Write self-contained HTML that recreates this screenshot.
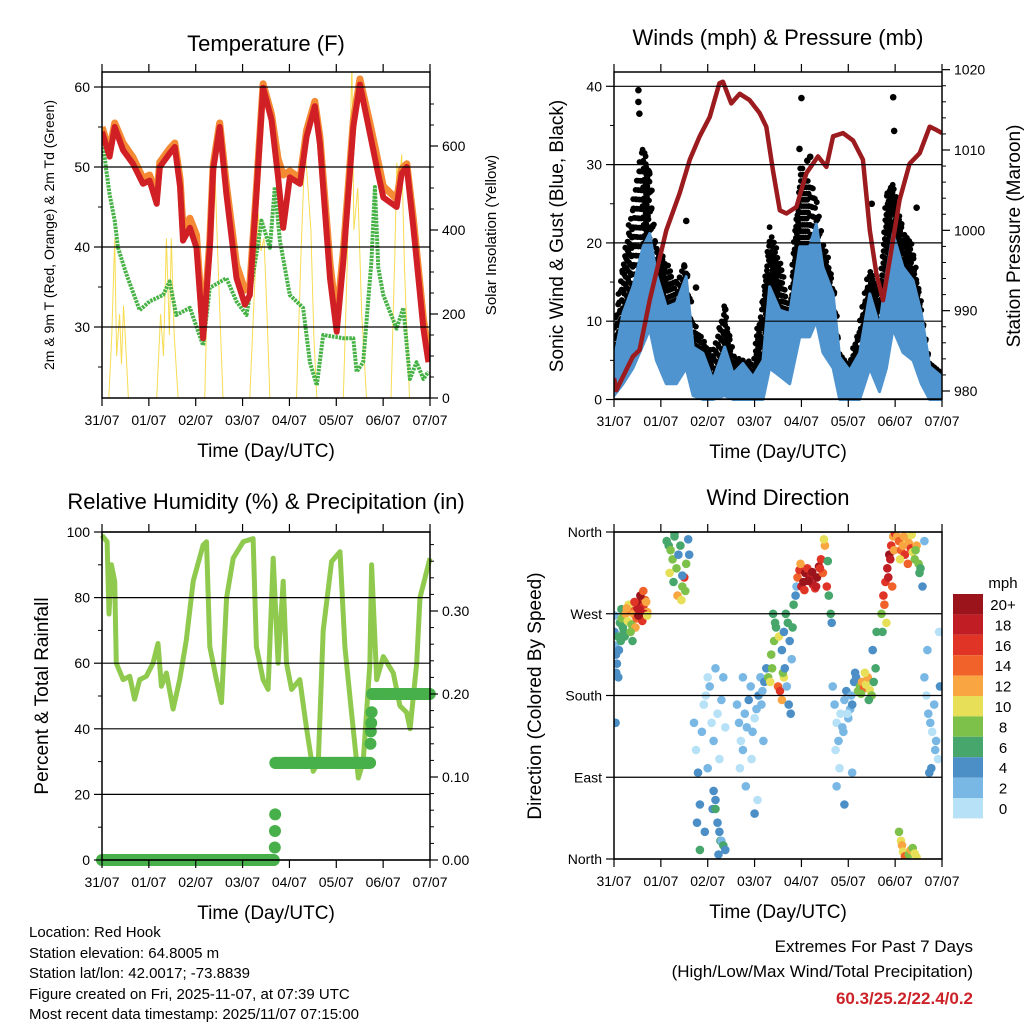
<!DOCTYPE html>
<html><head><meta charset="utf-8"><style>
body{margin:0;background:#fff;}
svg{display:block;font-family:"Liberation Sans",sans-serif;}
</style></head><body>
<svg id="chart" width="1024" height="1024" viewBox="0 0 1024 1024" xmlns="http://www.w3.org/2000/svg">
<rect width="1024" height="1024" fill="#fff"/>
<g id="p1"></g>
<g id="p2"></g>
<g id="p3"></g>
<g id="p4"></g>
<g id="txt" font-size="15" fill="#000">
<text x="29" y="937">Location: Red Hook</text>
<text x="29" y="958">Station elevation: 64.8005 m</text>
<text x="29" y="978">Station lat/lon: 42.0017; -73.8839</text>
<text x="29" y="999">Figure created on Fri, 2025-11-07, at 07:39 UTC</text>
<text x="29" y="1019">Most recent data timestamp: 2025/11/07 07:15:00</text>
<text x="973" y="952" text-anchor="end" font-size="17">Extremes For Past 7 Days</text>
<text x="973" y="977" text-anchor="end" font-size="17">(High/Low/Max Wind/Total Precipitation)</text>
<text x="973" y="1004" text-anchor="end" font-size="17" font-weight="bold" fill="#cc2229">60.3/25.2/22.4/0.2</text>
</g>
</svg>
<script>
// ---------- DATA ----------
const dayLabels = ["31/07","01/07","02/07","03/07","04/07","05/07","06/07","07/07"];
// Temperature
const tempHours = [0,3.9,6.5,10.8,15.9,21,24.4,28,29.6,34.7,37.3,40,41.5,45,48.4,51.8,55.2,56.9,60.3,63.7,68.9,73.2,75.7,79.1,82.5,86.8,90.2,92.8,96.2,101.4,104.8,109,111.6,116.8,120.2,123.6,128.7,132.1,137.2,140.7,144.1,150.9,153.5,156.1,159.5,164.6,167.2];
const tempRed = [54.4,51.3,55,52.1,50.4,47.9,48.3,45.4,50,51.7,52.5,47.5,40.8,42.4,39.9,28.6,39.9,49.6,55,46.6,36.1,32.8,34,46.6,59.9,55.9,48.7,42.4,48.7,47.9,53.8,57.6,52.9,36.1,29.4,38.2,55,60.3,54.2,50,46.2,45,49.2,50,42.4,29.8,25.6];
const tempOrange = [55,52,55.5,53,51.2,48.6,49,46.5,50.6,52.3,53,48.5,42.3,43.6,41.5,29.5,40.8,50.2,55.5,47.8,37.8,34.6,35.2,47.3,60.4,56.6,51,49,49.5,48.6,54.6,58.2,53.8,38,30.8,39.5,55.8,61,55.5,51.5,47.6,46,49.8,50.4,43.5,31,27];
const dewHours = [0,2.2,3.9,6.5,8.2,12.5,17.6,19.3,24.4,31.3,34.7,38,45,51.8,55.2,63.7,68.9,74,79.1,81.7,86,88.5,91.1,96.2,103,106.5,110,113.3,123.6,128.7,130.4,133.8,138,139.8,141.5,144.1,150.9,154.3,157.7,161.1,164.6,167.2];
const dewVals = [53.8,49.6,46.6,43.3,39.9,36.6,33.2,32.1,33.2,34,35.7,31.5,32.4,27.7,34.9,36.1,33.2,31.5,39.1,43.3,39.9,47.5,40.8,34,32.4,25.6,22.7,29,28.6,28.6,24.4,25.6,38.2,47.5,37.4,34,29.8,32.4,23.5,25.6,23.5,24.4];
const solarHours = [3.5,5,6.5,7.5,9,10,11,12,13.5, 28,30,31.5,33,34.5,35.5,37,39, 52.6,54.5,56.5,58,60,62, 75.7,78,80,81.5,83,84.5,86, 99.6,102,104,105.5,107,108.5,110, 123.6,125.5,127,128,129,131,133,135.5, 148,150,151,152,153.5,155,157.5];
const solarVals = [0,150,380,100,200,80,220,140,0, 0,200,100,380,150,380,150,0, 0,350,545,520,250,0, 0,250,440,350,380,200,0, 0,350,600,500,400,150,0, 0,300,600,800,400,500,200,0, 0,350,560,500,580,300,0];
// Winds
const windHours = [0,4.6,9.7,14.9,18.3,21.7,26.8,31.9,37,40.5,45.6,50.7,56.7,61,66,71.2,76.3,79.7,84.9,90,95.1,100.2,103.6,107,112.2,115.6,120.7,125.8,131,136,139.5,142.9,148,153.2,157.4,161.7,168];
const windTop = [5,11,14.4,19.5,21.2,16,11.8,12.3,15.7,6.7,5.9,2.5,6.7,3.3,4.6,2.9,5,14.4,11.4,11,19.5,19.5,22.4,16.9,13.5,5.4,3.7,5.9,13.5,9.3,16,21.2,16.9,15.2,11,4.2,2.9];
const windLow = [0.5,2,4,7,9,5,2,2,4,0.5,0,0,0.5,0,0,0,0,4,3,2,8,8,10,6,4,0,0,0,4,1,4,9,6,5,2,0,0];
const gustMax = [9,18,25,33,29,20,18,15,18,10,8,6,12,6,5,5,14,22,18,12,30,28,26,20,16,6,5,10,17,14,26,28,22,20,12,5,4];
const gustOutHours = [12.5,12.5,13,18,37,36,42,57,96,95,100.5,99,143,143.5,141,132,155];
const gustOutVals = [39.5,38,36.5,29,22.8,17,14.3,11.5,38.5,32,31,30.5,38.6,34.3,23,25,24.5];
const presHours = [0,1.2,9.7,13.1,18.3,26.8,33.6,38.8,43.9,49,54,55.8,60.1,64.4,69.5,74.6,78,81.4,84.9,88.3,93.4,98.5,104.5,108.8,112.2,117.3,122.4,127.5,131,134.4,137.8,141.2,146.3,151.4,156.6,161.7,165.1,168];
const presVals = [981.6,980.1,984.3,985.1,991.3,1000,1004.6,1008.8,1011.7,1014.1,1018.3,1018.5,1015.8,1017,1016.2,1014.6,1012.9,1007.5,1002.5,1002.1,1002.9,1007.1,1009.2,1007.9,1011.7,1012.1,1011.2,1008.8,1000,994.6,991.3,996.3,1003.8,1008.3,1009.6,1012.9,1012.5,1012.1];
// Humidity & precipitation
const rhHours = [0,2.6,3.6,4.8,6.5,7.3,10.8,14.2,16.7,19.3,22.7,26.1,28.7,30.4,33,36.4,39.8,43.2,46.7,51.8,53.5,55.2,58.6,61.2,63.8,67.2,72.3,77.4,79.1,82.5,85.1,87.7,90.2,92.8,94.5,97.1,101.3,104.8,108.2,110.8,113.3,117.6,121.9,124.4,127.8,131.3,133.8,137.2,138.1,140.7,144.1,149.2,152.6,156,157.8,161.2,162.9,168];
const rhVals = [99,97,75,90,85,60,55,56,49,55,56,60,66,53,57,46,55,67,85,96,97,65,55,48,80,92,97,98,65,55,52,92,60,85,60,52,55,40,27,30,70,91,94,65,45,25,30,60,90,55,62,57,47,45,40,60,80,92];
const precipHours = [0,88.4,88.5,88.6,88.7,88.8,137.3,137.5,137.7,137.9,138.1,138.4,168];
const precipVals = [0,0,0.015,0.035,0.055,0.117,0.117,0.14,0.155,0.165,0.178,0.2,0.2];
// Wind direction scatter
const dirHours = [0.2,0.5,1,1.5,2,2.5,3,3.5,0.3,1.2,2.2,3.8,4.5,0.8,
4,5,6,7,8,9,10,11,12,13,14,15,16,17,5.5,7.5,9.5,11.5,13.5,15.5,16.5,14.5,12.5,10.5,8.5,6.5,13,15,17,
27,28,29,30,31,32,33,34,35,36,37,38,28.5,30.5,32.5,34.5,36.5,38.5,31,35,
41,42,43,44,45,46,47,48,49,50,51,52,53,54,55,56,57,42.5,46.5,50.5,54.5,48,52,44,
51,52,53,54,55,56,57,53.5,
63,64,65,66,67,68,69,70,71,72,73,74,75,76,77,78,64.5,67.5,70.5,73.5,76.5,66,72,75.5,
79,80,81,82,83,84,85,86,87,80.5,82.5,84.5,86.5,81.5,
86,87,88,89,90,91,92,93,87.5,89.5,91.5,93.5,88.5,90.5,
94,95,96,97,98,99,100,101,102,103,104,105,106,107,108,109,110,111,95.5,97.5,99.5,101.5,103.5,105.5,107.5,109.5,111.5,
112,113,114,115,116,117,118,119,120,121,122,123,124,113.5,115.5,117.5,119.5,121.5,123.5,114,118,122,
125,126,127,128,129,130,131,132,133,134,126.5,128.5,130.5,132.5,134.5,
137,138,139,140,141,142,143,137.5,138.5,139.5,140.5,141.5,142.5,143.5,144,
145,146,147,148,149,150,151,152,153,154,155,156,157,158,159,146.5,148.5,150.5,152.5,154.5,156.5,
146,147,147.5,148,149,151,152,153,154,155,
159,160,161,162,163,164,165,166,167,160.5,162.5,164.5,166.5,161.5];
const dirVals = [250,235,225,215,245,230,260,240,268,205,200,275,255,150,
265,250,270,262,275,258,270,255,276,282,268,278,285,272,245,280,240,265,290,270,283,262,268,283,250,276,275,295,268,
350,345,340,330,355,320,335,345,300,310,325,352,315,305,290,285,295,335,358,312,
150,120,95,60,140,170,180,200,190,150,130,210,160,110,175,200,145,40,30,55,20,100,65,10,
75,55,40,30,20,15,10,5,
170,150,130,120,160,145,175,190,140,155,165,180,200,185,195,210,100,80,110,65,130,200,50,170,
200,195,210,240,255,190,185,175,200,225,260,245,205,270,
230,250,270,260,240,220,280,290,210,170,255,300,190,160,
310,318,300,305,315,320,308,312,302,298,310,322,330,315,345,300,290,270,325,296,306,316,300,320,352,328,260,
190,170,150,130,160,145,175,185,155,165,170,195,200,120,100,140,160,180,205,80,60,95,
185,190,195,188,192,200,186,180,195,210,182,205,175,230,250,
270,290,305,320,335,345,355,250,280,260,310,330,300,340,358,
355,350,340,345,335,352,348,342,338,330,345,325,320,300,350,330,355,325,357,340,315,
30,20,15,8,3,5,10,12,6,2,
200,180,160,150,140,170,130,110,190,230,100,120,250,95];
const dirSpeeds = [4,3,4,5,6,4,7,6,3,4,5,7,6,4,
8,7,12,10,14,9,13,12,18,20,16,17,14,12,7,11,6,15,20,19,13,17,22,16,9,12,18,15,11,
6,7,9,8,6,9,5,7,8,16,9,5,10,7,12,10,9,5,7,4,
2,1,4,5,2,1,0,1,3,1,2,2,1,0,3,2,1,4,5,4,6,2,5,6,
4,6,5,4,3,6,4,5,
2,3,1,2,3,2,4,3,2,1,3,4,3,2,5,4,1,2,0,1,3,3,4,2,
9,10,8,8,7,14,16,12,10,9,6,11,8,7,
5,4,7,6,4,3,7,4,4,5,6,3,3,4,
14,16,18,22,20,17,21,19,18,16,22,20,17,15,13,16,7,6,12,17,20,21,19,16,11,7,5,
3,2,1,2,1,2,3,4,2,3,4,5,4,1,0,2,1,3,5,3,4,2,
8,9,12,14,10,13,11,8,7,6,9,10,6,5,7,
8,16,17,18,20,17,12,7,14,10,18,19,15,13,16,
12,14,15,13,16,11,12,17,10,9,13,8,6,5,3,11,12,15,10,8,7,
8,10,12,11,14,9,12,8,10,11,
2,1,3,2,1,2,3,1,4,3,4,2,1,5];
const speedLabels = ["20+","18","16","14","12","10","8","6","4","2","0"];
const speedColors = ["#9b141c","#c01d25","#e03427","#f0622a","#f9a642","#e8df58","#7dc04a","#46a66b","#4b8fc6","#79b8e5","#b6e1f6"];

// ---------- RENDER ----------
const NS="http://www.w3.org/2000/svg";
function mk(parent,tag,attrs){const e=document.createElementNS(NS,tag);for(const k in attrs)e.setAttribute(k,attrs[k]);parent.appendChild(e);return e;}
function txt(parent,x,y,s,size,anchor,extra){const t=mk(parent,"text",Object.assign({x:x,y:y,"font-size":size,"text-anchor":anchor||"start"},extra||{}));t.textContent=s;return t;}
function lin(d0,d1,r0,r1){return v=>r0+(v-d0)*(r1-r0)/(d1-d0);}
function pts(xs,ys,fx,fy){return xs.map((h,i)=>fx(h).toFixed(1)+","+fy(ys[i]).toFixed(1)).join(" ");}

function frame(g,x0,x1,y0,y1,title,tx,ty,yTicks,fy,yLabels,rTicks,fr,rLabels,minorL,minorR){
  yTicks.forEach(v=>{const y=fy(v);const l=mk(g,"line",{x1:x0,x2:x1,y1:y,y2:y,stroke:"#000","stroke-width":1.2});
    
    });
  mk(g,"rect",{x:x0,y:y0,width:x1-x0,height:y1-y0,fill:"none",stroke:"#000","stroke-width":1.5});
  const fx=lin(0,168,x0,x1);
  for(let d=0;d<=7;d++){const x=fx(d*24);
    mk(g,"line",{x1:x,x2:x,y1:y1,y2:y1+8,stroke:"#000","stroke-width":1.2});
    mk(g,"line",{x1:x,x2:x,y1:y0,y2:y0-8,stroke:"#000","stroke-width":1.2});
    const t=txt(g,x,y1+27,dayLabels[d],14,"middle");
    
    }
  yTicks.forEach((v,i)=>{const y=fy(v);mk(g,"line",{x1:x0-8,x2:x0,y1:y,y2:y,stroke:"#000","stroke-width":1.2});
    if(yLabels){const t=txt(g,x0-12,y+5,yLabels[i],14,"end");
    
    }});
  (minorL||[]).forEach(v=>{const y=fy(v);mk(g,"line",{x1:x0-4,x2:x0,y1:y,y2:y,stroke:"#000","stroke-width":1});});
  if(rTicks){rTicks.forEach((v,i)=>{const y=fr(v);mk(g,"line",{x1:x1,x2:x1+8,y1:y,y2:y,stroke:"#000","stroke-width":1.2});
    const t=txt(g,x1+12,y+5,rLabels[i],14,"start");
    
    });
    (minorR||[]).forEach(v=>{const y=fr(v);mk(g,"line",{x1:x1,x2:x1+4,y1:y,y2:y,stroke:"#000","stroke-width":1});});}
  const tt=txt(g,tx,ty,title,22,"middle");
  
  
  const xt=txt(g,(x0+x1)/2,y1+59,"Time (Day/UTC)",19,"middle");
  
  
  return fx;
}
function ytitle(g,x,y,s,size,name){const t=txt(g,0,0,s,size,"middle",{transform:`translate(${x},${y}) rotate(-90)`});
  
  }

// Panel 1
(function(){const g=document.getElementById("p1");
  const x0=102,x1=430,y0=72,y1=398;
  const fy=lin(60,50,87,167), fs=lin(0,600,398,146);
  const fx=lin(0,168,x0,x1);
  const clip=mk(g,"clipPath",{id:"c1"});mk(clip,"rect",{x:x0,y:y0,width:x1-x0,height:y1-y0});
  const d=mk(g,"g",{"clip-path":"url(#c1)"});
  const so=mk(d,"polyline",{points:pts(solarHours,solarVals,fx,fs),fill:"none",stroke:"#f7dc52","stroke-width":1});
  
  const dw=mk(d,"polyline",{points:pts(dewHours,dewVals,fx,fy),fill:"none",stroke:"#46b245","stroke-width":4,"stroke-dasharray":"2.5 1","stroke-linejoin":"round"});
  
  const or=mk(d,"polyline",{points:pts(tempHours,tempOrange,fx,fy),fill:"none",stroke:"#f58a35","stroke-width":7,"stroke-linejoin":"round"});
  
  const rd=mk(d,"polyline",{points:pts(tempHours,tempRed,fx,fy),fill:"none",stroke:"#d11f26","stroke-width":6,"stroke-linejoin":"round"});
  
  frame(g,x0,x1,y0,y1,"Temperature (F)",266,51,[60,50,40,30],fy,["60","50","40","30"],[600,400,200,0],fs,["600","400","200","0"],[55,45,35,25],[700,500,300,100,650,550,450,350,250,150,50]);
  ytitle(g,54,235,"2m & 9m T (Red, Orange) & 2m Td (Green)",14,"y-axis-title-left");
  ytitle(g,496,235,"Solar Insolation (Yellow)",15,"y-axis-title-right");
})();
// Panel 2
(function(){const g=document.getElementById("p2");
  const x0=614,x1=942,y0=72,y1=399;
  const fy=lin(0,10,399.5,321.2), fp=lin(980,1010,391,150);
  const fx=lin(0,168,x0,x1);
  const clip=mk(g,"clipPath",{id:"c2"});mk(clip,"rect",{x:x0,y:y0-2,width:x1-x0,height:y1-y0+4});
  const d=mk(g,"g",{"clip-path":"url(#c2)"});
  const gd=mk(d,"g",{fill:"#000"});
  
  for(let i=0;i<windHours.length-1;i++){
    const n=Math.max(1,Math.round((windHours[i+1]-windHours[i])/0.4));
    for(let k=0;k<n;k++){const f=k/n;const h=windHours[i]+f*(windHours[i+1]-windHours[i]);
      const lo=windTop[i]+f*(windTop[i+1]-windTop[i]);const hi=gustMax[i]+f*(gustMax[i+1]-gustMax[i]);
      let j=0;
      for(let v=lo-2+(k%3)*0.8;v<=hi;v+=2.4){const off=((j+k)%3-1)*0.25;j++;
        mk(gd,"circle",{cx:fx(h+off).toFixed(1),cy:fy(v).toFixed(1),r:2.9});}}}
  gustOutHours.forEach((h,i)=>{mk(gd,"circle",{cx:fx(h),cy:fy(gustOutVals[i]),r:3.3});});
  const band=windHours.map((h,i)=>fx(h).toFixed(1)+","+fy(windTop[i]).toFixed(1)).concat(windHours.slice().reverse().map((h,j)=>{const i=windHours.length-1-j;return fx(h).toFixed(1)+","+fy(windLow[i]).toFixed(1);})).join(" ");
  const bl=mk(d,"polygon",{points:band,fill:"#4f94cf",stroke:"#4f94cf","stroke-width":3,"stroke-linejoin":"round"});
  
  const pr=mk(d,"polyline",{points:pts(presHours,presVals,fx,fp),fill:"none",stroke:"#9b1b1e","stroke-width":4.5,"stroke-linejoin":"round"});
  
  frame(g,x0,x1,y0,y1,"Winds (mph) & Pressure (mb)",778,45,[40,30,20,10,0],fy,["40","30","20","10","0"],[1020,1010,1000,990,980],fp,["1020","1010","1000","990","980"],[35,25,15,5],[1018,1016,1014,1012,1008,1006,1004,1002,998,996,994,992,988,986,984,982]);
  ytitle(g,563,236,"Sonic Wind & Gust (Blue, Black)",19,"y-axis-title-left");
  ytitle(g,1020,236,"Station Pressure (Maroon)",19,"y-axis-title-right");
})();
// Panel 3
(function(){const g=document.getElementById("p3");
  const x0=102,x1=430,y0=532,y1=860;
  const fy=lin(0,100,860,532), fr=lin(0,0.1,860,777);
  const fx=lin(0,168,x0,x1);
  const clip=mk(g,"clipPath",{id:"c3"});mk(clip,"rect",{x:x0-8,y:y0-4,width:x1-x0+16,height:y1-y0+12});
  const d=mk(g,"g",{"clip-path":"url(#c3)"});
  const rh=mk(d,"polyline",{points:pts(rhHours,rhVals,fx,fy),fill:"none",stroke:"#8fca4f","stroke-width":5,"stroke-linejoin":"round"});
  
  const pg=mk(d,"g",{fill:"#48b04a"});
  
  for(let i=0;i<precipHours.length-1;i++){
    const span=precipHours[i+1]-precipHours[i];
    if(span<1){mk(pg,"circle",{cx:fx(precipHours[i+1]),cy:fr(precipVals[i+1]),r:6});continue;}
    for(let h=precipHours[i];h<=precipHours[i+1];h+=0.5){mk(pg,"circle",{cx:fx(h).toFixed(1),cy:fr(precipVals[i]).toFixed(1),r:6});}}
  frame(g,x0,x1,y0,y1,"Relative Humidity (%) & Precipitation (in)",266,509,[100,80,60,40,20,0],fy,["100","80","60","40","20","0"],[0.3,0.2,0.1,0],fr,["0.30","0.20","0.10","0.00"],[90,70,50,30,10],[0.38,0.36,0.34,0.32,0.28,0.26,0.24,0.22,0.18,0.16,0.14,0.12,0.08,0.06,0.04,0.02]);
  ytitle(g,48,696,"Percent & Total Rainfall",19,"y-axis-title-left");
})();
// Panel 4
(function(){const g=document.getElementById("p4");
  const x0=614,x1=942,y0=532,y1=859;
  const fy=lin(0,360,859,532);
  const fx=lin(0,168,x0,x1);
  const clip=mk(g,"clipPath",{id:"c4"});mk(clip,"rect",{x:x0,y:y0,width:x1-x0,height:y1-y0});
  const d=mk(g,"g",{"clip-path":"url(#c4)"});
  function col(s){let b=Math.floor(s/2);if(b>10)b=10;return speedColors[10-b];}
  dirHours.forEach((h,i)=>{const c=mk(d,"circle",{cx:fx(h).toFixed(1),cy:fy(dirVals[i]).toFixed(1),r:4.3,fill:col(dirSpeeds[i])});
    
    });
  frame(g,x0,x1,y0,y1,"Wind Direction",778,505,[360,270,180,90,0],fy,["North","West","South","East","North"]);
  ytitle(g,541,696,"Direction (Colored By Speed)",19,"y-axis-title-left");
  const lg=mk(g,"g",{});
  
  txt(lg,1003,588,"mph",15,"middle");
  speedColors.forEach((c,i)=>{const y=594+i*20.4;
    const r=mk(lg,"rect",{x:953,y:y,width:30,height:20.4,fill:c});
    
    
    txt(lg,1003,y+16,speedLabels[i],15,"middle");});
})();
</script>
</body></html>
